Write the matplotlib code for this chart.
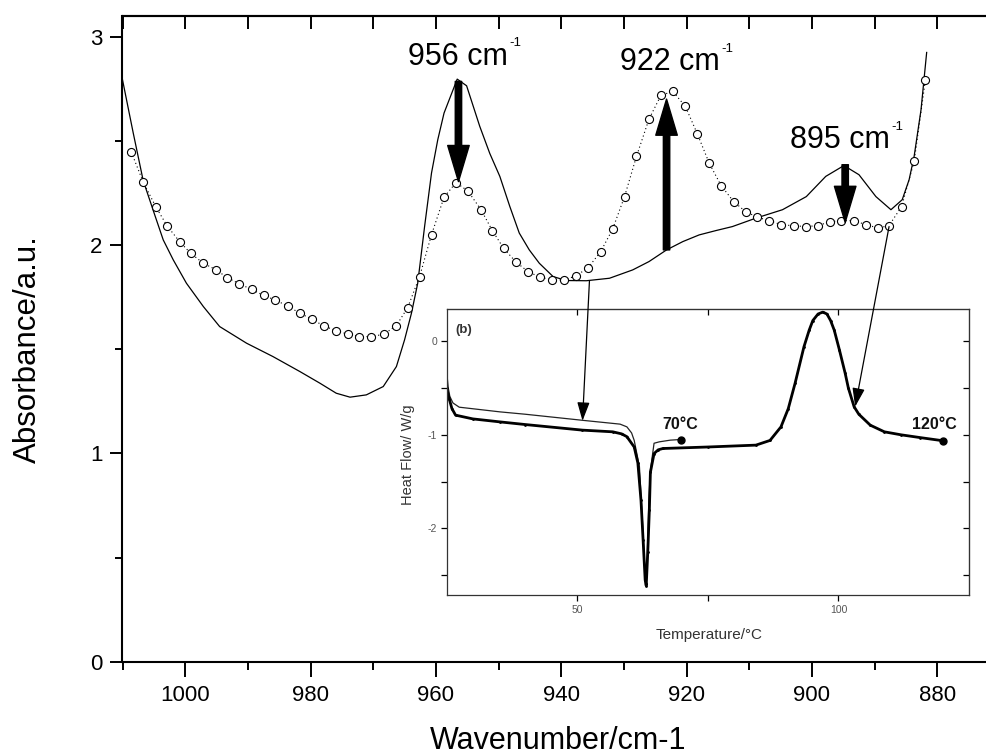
import matplotlib
matplotlib.use("Agg")
import matplotlib.pyplot as plt
from matplotlib.ticker import MultipleLocator, FixedLocator

plt.rcParams['font.family'] = ['Liberation Sans', 'DejaVu Sans']

# ---------------- main IR spectrum data ----------------
solid_wn = [1010.0, 1008.3, 1006.7, 1004.8, 1003.5, 1001.9, 999.8, 997.1, 994.5, 990.2,
            986.0, 981.7, 978.5, 975.9, 973.7, 971.1, 968.4, 966.3, 965.0, 963.9,
            962.9, 961.8, 960.7, 959.7, 958.7, 956.6, 955.1, 953.0, 951.4, 949.8,
            948.2, 946.7, 945.1, 943.5, 941.3, 939.2, 936.0, 932.3, 928.6, 926.0,
            923.2, 920.6, 918.0, 915.3, 912.7, 908.9, 904.7, 900.9, 897.8, 894.9,
            892.5, 889.8, 887.4, 885.6, 884.5, 883.7, 882.6, 881.7]
solid_abs = [2.794, 2.54, 2.31, 2.14, 2.025, 1.929, 1.817, 1.705, 1.609, 1.529,
             1.465, 1.393, 1.337, 1.289, 1.270, 1.281, 1.321, 1.417, 1.545, 1.673,
             1.817, 2.09, 2.346, 2.506, 2.634, 2.797, 2.765, 2.57, 2.44, 2.33,
             2.185, 2.058, 1.977, 1.913, 1.849, 1.830, 1.829, 1.841, 1.881, 1.921,
             1.977, 2.017, 2.049, 2.070, 2.089, 2.130, 2.170, 2.233, 2.330, 2.382,
             2.338, 2.233, 2.170, 2.218, 2.314, 2.426, 2.650, 2.925]

circ_wn = [1008.6, 1006.7, 1004.7, 1002.9, 1000.9, 999.1, 997.1, 995.1, 993.3, 991.4,
           989.4, 987.5, 985.6, 983.6, 981.7, 979.8, 977.9, 976.0, 974.0, 972.2,
           970.3, 968.3, 966.3, 964.5, 962.6, 960.7, 958.7, 956.8, 954.9, 952.8,
           951.0, 949.2, 947.2, 945.3, 943.4, 941.4, 939.5, 937.6, 935.7, 933.7,
           931.8, 929.9, 928.0, 926.0, 924.1, 922.2, 920.2, 918.3, 916.4, 914.5,
           912.5, 910.6, 908.7, 906.8, 904.9, 902.9, 900.9, 899.0, 897.1, 895.3,
           893.3, 891.4, 889.4, 887.7, 885.7, 883.7, 881.9]
circ_abs = [2.447, 2.303, 2.185, 2.093, 2.017, 1.960, 1.913, 1.882, 1.844, 1.815,
            1.787, 1.759, 1.736, 1.707, 1.673, 1.645, 1.612, 1.590, 1.572, 1.561,
            1.561, 1.572, 1.614, 1.700, 1.849, 2.05, 2.23, 2.30, 2.26, 2.17,
            2.07, 1.985, 1.918, 1.873, 1.846, 1.833, 1.833, 1.853, 1.892, 1.969,
            2.077, 2.233, 2.426, 2.605, 2.719, 2.738, 2.666, 2.535, 2.394, 2.286,
            2.209, 2.161, 2.134, 2.117, 2.098, 2.093, 2.089, 2.094, 2.113, 2.117,
            2.118, 2.098, 2.082, 2.094, 2.185, 2.402, 2.794]

x_ticks = [1000, 980, 960, 940, 920, 900, 880]
y_ticks = [0, 1, 2, 3]

# peak annotations: label, x, arrow start, arrow end
peak_labels = ["956 cm", "922 cm", "895 cm"]
peak_sup = "-1"
peak_wn = [956.4, 923.2, 894.7]
arrow_from = [2.786, 1.977, 2.386]
arrow_to = [2.305, 2.701, 2.109]
label_pos = [(964.5, 2.866), (930.6, 2.840), (903.5, 2.466)]

# ---------------- inset DSC data ----------------
dscA_T = [25.0, 25.3, 25.6, 26.2, 27.4, 35.2, 40.0, 51.0, 58.2, 59.5,
          60.4, 60.9, 61.9, 62.6, 63.0, 63.4, 63.7, 64.0, 64.7, 65.7, 67.8, 69.8]
dscA_HF = [-0.33, -0.50, -0.59, -0.66, -0.705, -0.755, -0.78, -0.845, -0.886, -0.915,
           -0.98, -1.06, -1.34, -2.05, -2.50, -2.30, -1.70, -1.38, -1.09, -1.075, -1.057, -1.05]

dscB_T = [25.0, 25.5, 26.0, 26.7, 30.0, 35.2, 40.0, 51.0, 56.8, 58.5,
          59.5, 60.9, 61.6, 62.2, 62.6, 63.0, 63.2, 63.5, 63.8, 64.0,
          64.7, 65.5, 66.4, 75.0, 84.2, 86.9, 89.0, 90.4, 91.7, 93.4,
          94.4, 95.1, 96.1, 97.0, 97.8, 98.5, 99.2, 100.2, 101.3, 101.9,
          103.0, 103.9, 106.1, 108.8, 112.0, 115.7, 120.1]
dscB_HF = [-0.50, -0.62, -0.72, -0.79, -0.83, -0.862, -0.89, -0.95, -0.968, -0.99,
           -1.02, -1.13, -1.30, -1.70, -2.12, -2.55, -2.61, -2.25, -1.80, -1.40,
           -1.20, -1.16, -1.146, -1.13, -1.11, -1.06, -0.915, -0.72, -0.45, -0.06,
           0.117, 0.22, 0.29, 0.31, 0.29, 0.22, 0.117, -0.096, -0.345, -0.50,
           -0.70, -0.78, -0.897, -0.968, -1.00, -1.03, -1.064]

end_T = [69.8, 120.1]
end_HF = [-1.05, -1.064]
end_labels = ["70°C", "120°C"]
end_label_T = [69.8, 118.4]

# link arrows: (wavenumber, absorbance) -> (T, HF)
link_from = [(935.5, 1.829), (887.7, 2.089)]
link_to = [(51.0, -0.851), (103.2, -0.70)]

# ---------------- figure ----------------
W, H = 987, 756
fig = plt.figure(figsize=(W / 100, H / 100), dpi=100)
ax = fig.add_axes([122.5 / W, (H - 661.7) / H, (1000 - 122.5) / W, (661.7 - 16) / H])

ax.plot(solid_wn, solid_abs, color='black', lw=0.9, zorder=3)
ax.plot(circ_wn, circ_abs, color='black', lw=0.8, ls=(0, (1, 2.5)), marker='o',
        markersize=5.8, markerfacecolor='white', markeredgecolor='black',
        markeredgewidth=0.8, zorder=4)

ax.set_xlim(1010, 870)
ax.set_ylim(0, 3.1)
ax.xaxis.set_major_locator(FixedLocator(x_ticks))
ax.xaxis.set_minor_locator(MultipleLocator(10))
ax.yaxis.set_major_locator(FixedLocator(y_ticks))
ax.yaxis.set_minor_locator(MultipleLocator(0.5))
ax.tick_params(axis='x', which='major', direction='out', length=10.5, width=1.4,
               labelsize=16, pad=6)
ax.tick_params(axis='x', which='minor', direction='out', length=6, width=1.4)
ax.tick_params(axis='y', which='major', direction='out', length=8.5, width=1.4,
               labelsize=16, pad=6)
ax.tick_params(axis='y', which='minor', direction='out', length=5, width=1.4)
for s in ax.spines.values():
    s.set_linewidth(1.5)

top = ax.secondary_xaxis('top')
top.xaxis.set_major_locator(MultipleLocator(10))
top.tick_params(direction='in', length=9.5, width=1.4, labeltop=False)
top.spines['top'].set_linewidth(1.5)
right = ax.secondary_yaxis('right')
right.yaxis.set_major_locator(FixedLocator(y_ticks))
right.tick_params(direction='in', length=9.5, width=1.4, labelright=False)

ax.set_xlabel("Wavenumber/cm-1", fontsize=22)
ax.xaxis.set_label_coords(0.4965, -0.100)
ax.set_ylabel("Absorbance/a.u.", fontsize=22.5)
ax.yaxis.set_label_coords(-0.091, 0.484)

for lab, x, y0, y1, (tx, ty) in zip(peak_labels, peak_wn, arrow_from, arrow_to, label_pos):
    ax.annotate('', xy=(x, y1), xytext=(x, y0),
                arrowprops=dict(facecolor='black', edgecolor='black', width=4.6,
                                headwidth=15.5, headlength=26, shrink=0), zorder=6)
    t = ax.text(tx, ty, lab, fontsize=22, ha='left', va='baseline', zorder=6)
    ax.annotate(peak_sup, xy=(1.0, ty), xycoords=(t, 'data'), xytext=(1, 13.2),
                textcoords='offset points', fontsize=9.5, ha='left', va='baseline',
                zorder=6)

# ---------------- inset ----------------
ax_in = fig.add_axes([446.7 / W, (H - 595) / H, (969 - 446.7) / W, (595 - 309.3) / H])
ax_in.set_facecolor('white')
ax_in.plot(dscA_T, dscA_HF, color='#222222', lw=0.9)
ax_in.plot(dscB_T, dscB_HF, color='black', lw=2.0, marker='.', markersize=2.0)
ax_in.plot(end_T, end_HF, 'o', color='black', markersize=5)
for lab, tt in zip(end_labels, end_label_T):
    ax_in.text(tt, -0.943, lab, fontsize=11.5, fontweight='bold', ha='center',
               va='baseline', color='#111111')
ax_in.text(0.016, 0.916, "(b)", transform=ax_in.transAxes, fontsize=9.5,
           fontweight='bold', color='#333333', ha='left', va='baseline')

ax_in.set_xlim(25, 125)
ax_in.set_ylim(-2.71, 0.34)
ax_in.xaxis.set_major_locator(FixedLocator([50, 100]))
ax_in.xaxis.set_minor_locator(FixedLocator([75]))
ax_in.yaxis.set_major_locator(FixedLocator([0, -1, -2]))
ax_in.yaxis.set_minor_locator(FixedLocator([-0.5, -1.5, -2.5]))
ax_in.tick_params(which='both', direction='out', length=4, width=0.9,
                  labelsize=7.5, labelcolor='#555555', pad=3)
ax_in.set_yticklabels(['0', '-1', '-2'])
for s in ax_in.spines.values():
    s.set_linewidth(0.9)
    s.set_color('#333333')
itop = ax_in.secondary_xaxis('top')
itop.xaxis.set_major_locator(FixedLocator([50, 75, 100]))
itop.tick_params(direction='in', length=4, width=0.9, labeltop=False)
iright = ax_in.secondary_yaxis('right')
iright.yaxis.set_major_locator(FixedLocator([0, -0.5, -1, -1.5, -2, -2.5]))
iright.tick_params(direction='in', length=4, width=0.9, labelright=False)

ax_in.set_xlabel("Temperature/°C", fontsize=11, color='#333333')
ax_in.xaxis.set_label_coords(0.503, -0.115)
ax_in.set_ylabel("Heat Flow/ W/g", fontsize=10.5, color='#333333')
ax_in.yaxis.set_label_coords(-0.06, 0.49)

for (wn, ab), (tt, hf) in zip(link_from, link_to):
    ax_in.annotate('', xy=(tt, hf), xycoords='data', xytext=(wn, ab),
                   textcoords=ax.transData, annotation_clip=False,
                   arrowprops=dict(arrowstyle='-|>,head_length=0.6,head_width=0.2',
                                   color='black', lw=0.9, mutation_scale=19,
                                   shrinkA=0, shrinkB=0))

fig.savefig("out.png", dpi=100)
